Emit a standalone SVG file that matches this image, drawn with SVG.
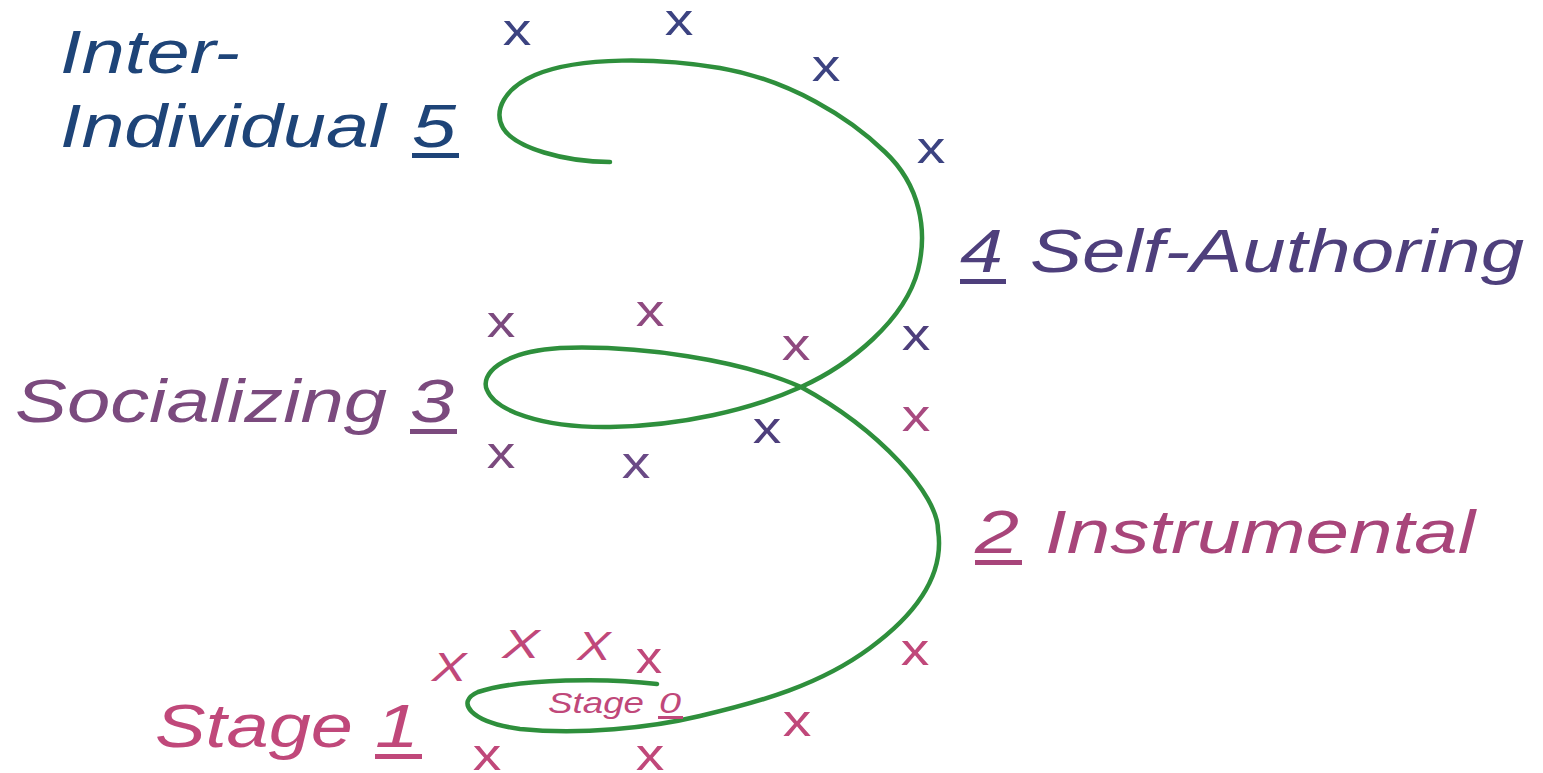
<svg xmlns="http://www.w3.org/2000/svg" width="1543" height="773" viewBox="0 0 1543 773">
<style>
.lbl{font-family:"Liberation Sans",Arial,sans-serif;font-style:italic;font-size:62px}
.sm{font-family:"Liberation Sans",Arial,sans-serif;font-style:italic;font-size:29px}
.x{font-family:"Liberation Sans",Arial,sans-serif;font-size:44px;text-anchor:middle}
.X{font-family:"Liberation Sans",Arial,sans-serif;font-style:italic;font-size:40px;text-anchor:middle}
.spiral{fill:none;stroke:#2e8f3c;stroke-width:4.5;stroke-linecap:round;stroke-linejoin:round}
.nv{fill:#3c4381}.pb{fill:#4e3f7c}.pu{fill:#7b4a7e}.vi{fill:#6a4a86}.mp{fill:#8f4a80}.mg{fill:#a84a80}.pk{fill:#c0487a}
</style>
<rect width="1543" height="773" fill="#ffffff"/>
<g id="connectors">
<path class="spiral" d="M 657 684 C 610 678, 520 678, 478 692 C 455 702, 470 722, 520 729 C 580 735, 650 728, 700 716 C 760 702, 820 685, 870 648 C 915 615, 945 575, 938 530 C 938 495, 880 430, 801 387 C 740 360, 640 345, 560 348 C 500 352, 480 375, 487 390 C 495 410, 540 428, 610 427 C 680 426, 750 410, 801 387 C 850 365, 905 320, 918 270 C 928 230, 920 185, 885 152 C 850 118, 790 80, 720 68 C 660 58, 580 56, 535 75 C 505 88, 493 110, 503 128 C 515 148, 565 162, 610 162"/>
</g>
<g id="stage5" fill="#1e4478">
<text class="lbl" x="60" y="73" textLength="180" lengthAdjust="spacingAndGlyphs">Inter-</text>
<text class="lbl" x="60" y="147" textLength="326" lengthAdjust="spacingAndGlyphs">Individual</text>
<text class="lbl" x="412" y="147" textLength="44" lengthAdjust="spacingAndGlyphs">5</text>
<rect x="412" y="153" width="47" height="5"/>
</g>
<g id="stage4" fill="#4e3f7c">
<text class="lbl" x="960" y="272" textLength="43" lengthAdjust="spacingAndGlyphs">4</text>
<rect x="960" y="279" width="46" height="5"/>
<text class="lbl" x="1030" y="272" textLength="494" lengthAdjust="spacingAndGlyphs">Self-Authoring</text>
</g>
<g id="stage3" fill="#7b4a7e">
<text class="lbl" x="15" y="422" textLength="372" lengthAdjust="spacingAndGlyphs">Socializing</text>
<text class="lbl" x="410" y="422" textLength="44" lengthAdjust="spacingAndGlyphs">3</text>
<rect x="410" y="429" width="47" height="5"/>
</g>
<g id="stage2" fill="#a8457a">
<text class="lbl" x="975" y="553" textLength="44" lengthAdjust="spacingAndGlyphs">2</text>
<rect x="975" y="560" width="47" height="5"/>
<text class="lbl" x="1045" y="553" textLength="430" lengthAdjust="spacingAndGlyphs">Instrumental</text>
</g>
<g id="stage1" fill="#c0487a">
<text class="lbl" x="155" y="747" textLength="198" lengthAdjust="spacingAndGlyphs">Stage</text>
<text class="lbl" x="375" y="747" textLength="44" lengthAdjust="spacingAndGlyphs">1</text>
<rect x="375" y="754" width="47" height="5"/>
</g>
<g id="stage0" fill="#c0487a">
<text class="sm" x="548" y="713" textLength="96" lengthAdjust="spacingAndGlyphs">Stage</text>
<text class="sm" x="659" y="713" textLength="22" lengthAdjust="spacingAndGlyphs">0</text>
<rect x="658" y="716" width="25" height="3"/>
</g>
<g id="marks">
<text class="x nv" transform="translate(517,45) scale(1.3,1)">x</text>
<text class="x nv" transform="translate(679,35) scale(1.3,1)">x</text>
<text class="x nv" transform="translate(826,81) scale(1.3,1)">x</text>
<text class="x nv" transform="translate(931,163) scale(1.3,1)">x</text>
<text class="x pb" transform="translate(916,350) scale(1.3,1)">x</text>
<text class="x pb" transform="translate(767,443) scale(1.3,1)">x</text>
<text class="x vi" transform="translate(636,478) scale(1.3,1)">x</text>
<text class="x pu" transform="translate(501,468) scale(1.3,1)">x</text>
<text class="x pu" transform="translate(501,337) scale(1.3,1)">x</text>
<text class="x mp" transform="translate(650,326) scale(1.3,1)">x</text>
<text class="x mp" transform="translate(796,360) scale(1.3,1)">x</text>
<text class="x mg" transform="translate(916,431) scale(1.3,1)">x</text>
<text class="x pk" transform="translate(915,665) scale(1.3,1)">x</text>
<text class="x pk" transform="translate(797,736) scale(1.3,1)">x</text>
<text class="x pk" transform="translate(650,770) scale(1.3,1)">x</text>
<text class="x pk" transform="translate(487,770) scale(1.3,1)">x</text>
<text class="x pk" transform="translate(649,673) scale(1.2,1)">x</text>
<text class="X pk" transform="translate(449,681) scale(1.3,1)">X</text>
<text class="X pk" transform="translate(521,658) scale(1.4,1)">X</text>
<text class="X pk" transform="translate(594,660) scale(1.25,1)">X</text>
</g>
</svg>
